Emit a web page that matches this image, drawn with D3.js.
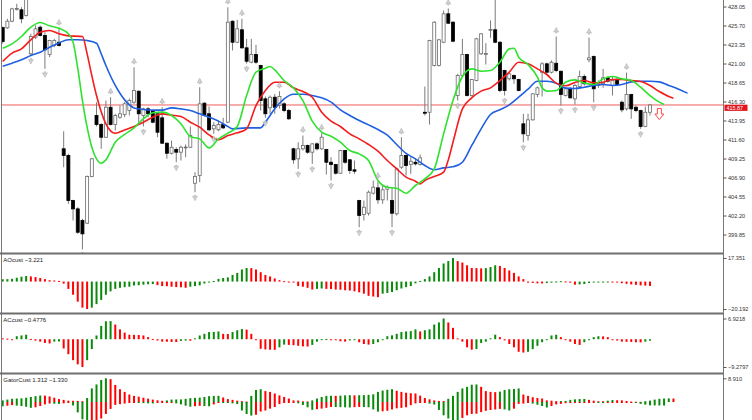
<!DOCTYPE html>
<html>
<head>
<meta charset="utf-8">
<script src="https://cdn.jsdelivr.net/npm/d3@7"></script>
<style>
  html,body{margin:0;padding:0;background:#fff;}
  svg{display:block;font-family:"Liberation Sans",Arial,sans-serif;}
</style>
</head>
<body>
<svg id="chart" width="752" height="420"></svg>
<script>
// ---- price bars (bar index 0..138) ----
const opens = [
  425.45,425.41,426.23,427.76,427.64,426.93,422.20,424.25,425.49,424.46,
  422.11,423.23,423.63,410.45,409.62,404.05,403.02,401.58,401.25,407.02,
  414.57,413.45,411.88,415.59,413.45,414.36,414.69,415.18,416.21,417.57,
  414.57,415.39,415.10,414.78,414.28,411.14,409.90,410.36,410.03,410.60,
  410.64,406.19,407.14,416.09,414.78,412.92,412.80,413.45,413.74,426.23,
  423.63,425.17,422.94,421.16,422.11,420.75,416.63,415.52,416.83,415.80,
  416.01,415.18,410.45,409.21,410.45,410.85,410.03,411.06,410.45,410.36,
  408.79,408.50,407.43,410.24,409.09,407.85,404.05,402.32,402.48,404.96,
  405.62,404.14,405.45,404.05,402.41,408.17,409.62,408.50,408.79,408.50,
  414.97,414.97,420.75,420.75,423.63,427.15,426.11,417.04,419.51,422.11,
  417.04,418.90,422.20,422.20,425.17,425.17,423.63,420.13,419.11,419.51,
  419.02,413.54,412.09,414.03,417.16,419.88,420.96,419.92,421.03,420.04,
  417.04,417.87,416.63,418.15,419.39,421.46,421.86,418.28,418.49,419.23,
  418.28,419.06,416.21,415.39,417.16,415.59,415.18,413.20,414.97
];
const highs = [
  425.57,426.53,427.89,428.38,427.96,429.53,424.67,425.70,425.70,424.87,
  423.93,424.05,425.33,412.62,409.83,404.14,403.22,401.79,407.14,409.33,
  416.21,413.61,416.42,416.83,414.78,415.80,416.21,416.67,420.54,417.66,
  415.52,415.59,415.18,414.85,415.59,411.26,411.47,410.64,410.85,410.98,
  413.21,407.55,418.07,416.21,415.68,413.74,413.95,414.28,427.96,426.32,
  426.40,426.53,424.05,424.05,423.31,420.84,416.92,417.04,417.25,417.57,
  416.21,415.39,410.57,411.26,412.09,410.98,411.14,411.26,412.38,410.45,
  409.41,408.59,410.32,410.32,409.16,409.00,404.14,404.05,405.29,406.53,
  406.40,405.91,405.91,405.70,408.13,411.88,409.74,409.41,409.25,409.74,
  418.15,423.93,426.23,424.05,427.55,427.80,426.23,419.72,424.05,422.20,
  419.11,424.18,424.75,423.51,426.32,429.41,423.76,420.22,419.88,419.64,
  419.11,414.78,414.78,417.32,418.15,421.16,421.12,421.37,424.34,420.13,
  418.07,418.07,418.49,420.13,419.64,424.21,421.99,418.90,420.34,419.39,
  419.39,419.14,416.42,419.88,417.25,415.80,415.27,415.68,416.00
];
const lows = [
  423.47,425.29,426.11,427.55,425.98,426.81,421.99,424.05,424.34,420.34,
  421.78,423.01,423.10,408.17,403.64,401.58,399.93,398.00,401.17,406.93,
  413.21,410.45,411.81,413.33,412.71,414.16,414.36,414.57,416.01,413.54,
  413.21,414.36,413.61,411.88,411.06,409.21,409.74,408.79,409.00,409.41,
  410.57,405.08,406.32,414.44,412.62,412.30,412.62,412.87,413.61,422.61,
  423.51,422.82,421.00,421.03,420.96,415.18,414.28,414.78,414.78,415.43,
  414.97,414.03,408.59,407.97,410.24,409.83,408.59,410.24,410.32,407.27,
  406.53,407.27,407.35,408.59,407.35,407.35,400.75,401.58,402.20,404.79,
  403.64,403.64,404.05,400.75,402.20,407.97,407.14,407.35,408.38,408.38,
  414.57,413.45,420.63,420.63,423.51,425.91,423.63,416.42,419.39,416.92,
  416.92,418.81,422.07,420.87,424.18,423.51,417.45,417.04,418.90,418.49,
  417.57,411.26,411.47,413.95,416.83,416.92,419.76,419.76,419.92,415.80,
  416.92,416.67,415.93,417.99,418.28,421.16,416.21,417.99,417.99,418.65,
  417.04,418.28,414.97,415.18,414.16,414.97,412.92,413.12,414.57
];
const closes = [
  423.72,426.23,427.76,427.80,426.53,428.91,424.34,425.29,424.46,422.69,
  423.84,423.84,423.23,409.62,404.05,403.02,400.13,399.93,407.02,409.21,
  413.45,411.88,415.59,413.45,414.57,414.78,416.01,416.42,417.66,414.78,
  415.39,414.78,413.74,412.50,411.14,409.90,410.64,410.03,410.64,410.66,
  412.09,407.02,416.01,414.57,412.80,413.33,413.45,413.04,426.11,423.63,
  425.29,422.94,421.28,422.11,421.16,416.42,414.78,416.83,415.59,416.92,
  415.18,414.16,409.09,410.45,410.85,410.03,411.06,410.45,411.88,408.79,
  408.50,407.43,410.24,408.79,407.76,407.68,402.20,403.22,405.08,405.70,
  404.14,405.38,405.70,402.48,407.97,409.62,408.38,408.91,408.59,409.33,
  414.85,423.84,426.11,423.93,427.15,425.98,423.76,419.51,422.11,417.04,
  419.02,424.05,424.67,422.23,425.20,423.63,417.66,417.66,419.72,419.11,
  417.66,412.30,414.03,417.25,417.99,420.96,419.92,421.16,420.13,417.16,
  417.87,416.75,418.28,419.39,418.49,421.70,417.87,418.49,419.23,418.81,
  418.90,418.40,415.27,417.16,415.39,415.18,413.20,414.97,415.87
];

// ---- alligator lines, [bar, price] as plotted (already shifted) ----
const jaw = [
  [0,420.67],[2,421.04],[4,421.45],[6,421.99],[8,422.40],[10,423.02],[12,423.55],[14,423.93],
  [16,423.93],[18,423.84],[20,423.51],[21,422.2],[22,420.75],[24,418.28],[26,416.50],[28,415.51],
  [30,415.31],[32,415.23],[34,415.23],[36,415.51],[38,415.39],[40,415.18],[42,414.77],[44,414.36],
  [46,413.87],[48,413.21],[49,412.92],[52,413.04],[55,413.04],[56,413.74],[58,415.39],[60,416.63],
  [62,417.20],[64,417.20],[66,417.04],[68,416.75],[70,416.22],[72,415.27],[74,414.57],[76,413.95],
  [78,413.41],[80,412.83],[82,412.14],[84,410.98],[86,409.87],[88,409.21],[90,408.38],[92,407.85],
  [94,408.09],[96,408.22],[98,408.79],[100,410.86],[102,412.92],[104,414.69],[106,415.27],[108,415.89],
  [110,416.83],[112,417.82],[114,418.81],[116,418.81],[118,418.57],[120,417.95],[122,417.91],[124,418.07],
  [126,418.28],[128,418.40],[130,418.28],[132,418.40],[134,418.73],[136,418.81],[138,418.81],[140,418.73],
  [142,418.28],[144,417.86],[146,417.33]
];
const teeth = [
  [0,421.25],[2,422.28],[4,422.81],[6,423.93],[8,424.87],[10,425.08],[12,424.67],[14,424.42],
  [17,424.34],[18,422.19],[19,419.5],[20,417.04],[22,413.54],[24,412.38],[26,412.79],[28,413.21],
  [30,413.74],[32,414.36],[34,414.77],[36,414.61],[38,414.44],[40,413.74],[42,413.12],[44,412.17],
  [46,411.56],[48,412.09],[50,412.42],[52,412.92],[54,415.80],[56,417.66],[58,418.69],[60,418.69],
  [62,417.99],[64,417.53],[66,416.83],[68,414.98],[70,413.87],[72,413.21],[74,412.30],[76,411.68],
  [78,410.98],[80,410.15],[82,409.00],[84,407.97],[86,406.94],[88,406.44],[89,406.11],[90,406.53],
  [92,407.02],[94,407.56],[95,409.08],[96,411.27],[98,415.39],[100,416.75],[102,417.58],[104,417.99],
  [106,418.89],[108,419.93],[110,421.16],[112,420.96],[114,420.34],[116,419.64],[118,418.57],[120,418.24],
  [122,418.65],[124,418.89],[126,418.61],[128,418.69],[130,419.02],[132,419.02],[134,418.89],[136,418.77],
  [138,418.28],[140,417.53],[142,416.92],[143,416.71]
];
const lips = [
  [0,422.89],[2,423.43],[4,424.34],[6,425.49],[8,426.07],[10,425.66],[12,425.37],[14,424.67],
  [15,423.64],[16,420.42],[17,416.42],[18,413.12],[19,410.65],[20,409.21],[21,408.67],[22,409.08],
  [24,411.27],[26,412.22],[28,413.04],[30,414.15],[32,414.90],[34,414.98],[36,414.57],[38,413.54],
  [40,411.97],[42,411.68],[44,410.57],[46,411.68],[48,412.38],[50,413.21],[52,417.04],[54,419.93],
  [56,420.42],[57,420.63],[58,420.21],[60,418.89],[62,417.99],[64,416.42],[66,413.87],[68,412.50],
  [70,412.01],[72,411.27],[74,410.24],[76,409.82],[78,409.00],[80,406.53],[82,405.70],[84,405.58],
  [86,404.96],[88,405.91],[90,406.73],[92,407.97],[94,412.30],[96,416.42],[98,419.39],[100,420.34],
  [102,420.05],[104,420.13],[106,421.16],[108,422.81],[109,422.89],[110,421.78],[112,420.87],[114,419.31],
  [115,417.99],[116,417.58],[118,417.66],[120,418.69],[122,418.98],[124,418.57],[126,418.40],[128,419.10],
  [130,419.39],[132,419.10],[134,418.89],[136,418.07],[138,417.04],[140,416.22],[141,415.93]
];

const fractalUp = [12,23,28,34,42,48,51,59,64,68,80,85,95,118,125,133];
const fractalDown = [6,9,17,30,37,41,45,52,56,63,66,70,76,83,97,107,111,119,122,126,136];
const sellSignals = [[140, 415.43]];

const priceTicks = [428.05,425.70,423.35,421.00,418.65,416.30,413.95,411.60,409.25,406.90,404.55,402.20,399.85];
const bidPrice = 415.87;

// ---- oscillators ----
const aoValues = [
  1.7,1.8,2.0,2.8,3.6,4.1,3.8,3.3,2.6,1.8,
  1.0,0.8,0.5,-1.5,-5.4,-9.7,-14.8,-19.2,-20.192,-19.2,
  -16.6,-13.5,-9.7,-7.2,-5.4,-4.6,-4.1,-3.8,-2.9,-2.7,
  -2.3,-2.0,-1.8,-2.6,-3.3,-3.4,-3.8,-4.1,-4.2,-4.6,
  -3.8,-3.3,-2.8,-1.4,-0.6,0.4,2.0,2.6,3.1,4.9,
  6.4,8.9,10.0,9.9,8.9,6.9,4.9,3.8,2.3,1.0,
  0.3,-0.1,-0.5,-3.3,-3.8,-4.6,-5.9,-5.4,-5.1,-5.4,
  -5.5,-5.9,-6.0,-6.4,-6.6,-7.2,-7.9,-8.9,-10.5,-11.0,
  -11.5,-8.9,-8.4,-7.7,-6.4,-5.1,-4.1,-3.3,-1.3,0.5,
  1.8,3.8,6.9,10.0,13.3,15.1,17.351,15.1,14.0,12.0,
  10.0,9.9,9.7,9.9,10.7,12.0,11.5,10.0,8.2,6.4,
  3.8,1.8,-0.8,-1.0,-1.3,-1.4,-1.1,-0.8,0.05,0.3,
  0.1,-0.8,-2.3,-2.1,-1.8,-1.0,-0.5,-0.3,-0.1,0.02,
  -0.2,-0.6,-1.2,-1.7,-2.1,-2.4,-2.8,-3.0,-3.221
];
const acValues = [
  0.3,0.2,0.0,1.0,1.25,1.5,0.1,-0.45,-0.8,-1.25,
  -1.4,-0.8,-0.75,-3.1,-5.0,-7.0,-8.4,-9.2797,-7.0,-3.3,
  1.25,4.45,6.0,6.05,4.9,3.3,2.2,1.5,1.45,1.4,
  1.25,0.7,0.1,-0.45,-0.8,-0.85,-0.9,-0.95,-0.55,-0.45,
  -0.5,0.3,1.25,1.8,2.4,2.45,2.6,1.8,1.75,2.4,
  3.0,3.4,3.2,1.8,-0.1,-3.2,-3.4,-3.5,-3.55,-2.7,
  -1.8,-1.9,-2.0,-2.2,-2.4,-2.45,-1.9,-0.8,-0.1,0.1,
  0.0,-0.1,-0.7,-0.8,-0.4,-0.2,-1.0,-1.6,-1.8,-1.6,
  -1.0,-0.1,1.0,1.3,1.8,2.4,2.6,2.7,3.3,2.6,
  3.0,3.3,4.9,5.6,6.9218,5.6,3.8,0.3,-0.8,-2.7,
  -3.5,-3.3,-1.25,-0.8,0.3,1.5,0.7,-0.4,-1.6,-2.7,
  -4.2,-4.45,-4.2,-3.3,-2.2,-1.0,-0.1,1.25,1.5,0.7,
  0.0,-0.8,-1.6,-1.9,-1.0,-0.2,0.7,1.0,0.95,0.7,
  0.0,-0.45,-0.8,-0.85,-0.9,-1.0,-1.05,-0.8,-0.4776
];
const gatorUpper = [
  0.6,0.9,1.2,1.3,1.4,1.6,1.9,2.2,2.45,2.4,
  2.1,1.6,1.1,0.8,0.5,0.45,0.4,0.3,1.5,5.1,
  6.6,8.3,8.91,8.6,6.4,4.8,3.8,2.8,2.3,2.0,
  1.6,1.25,0.9,0.65,0.46,0.6,0.9,0.95,0.97,1.2,
  1.44,1.55,1.65,1.9,2.2,2.3,2.31,1.7,1.1,0.8,
  0.5,0.3,0.15,2.3,4.5,4.8,4.1,3.8,3.2,2.5,
  1.9,1.3,0.6,0.55,0.25,0.2,0.6,1.3,1.9,2.3,
  2.35,2.3,2.4,2.5,2.55,2.5,2.55,2.6,2.7,2.9,
  3.8,4.3,4.6,4.8,4.2,3.8,3.5,3.3,3.2,2.4,
  1.5,1.0,0.6,0.4,0.35,1.2,2.3,3.8,5.1,5.7,
  6.5,6.6,5.7,4.1,3.8,3.7,3.9,4.5,4.8,4.9,
  5.1,2.8,2.3,1.8,1.5,1.3,0.6,0.5,0.3,0.35,
  0.4,0.8,1.0,1.1,1.15,0.8,0.5,0.3,0.29,0.5,
  0.74,0.68,0.62,0.4,0.16,0.1,0.04,0.3,0.53,0.9,
  1.2,1.3,1.36,1.312
];
const gatorLower = [
  1.6,1.4,1.15,1.35,1.53,1.8,2.2,2.0,1.5,0.9,
  0.58,0.65,0.7,0.5,0.25,1.3,3.9,6.5,9.0,8.8,
  7.8,6.2,4.5,2.6,1.1,0.8,0.57,0.35,0.17,0.3,
  0.41,0.5,0.54,0.4,0.21,0.1,0.04,0.5,0.9,1.4,
  1.77,1.6,1.44,1.55,1.6,0.9,0.12,0.2,0.29,0.5,
  0.79,3.2,4.5,5.1,4.8,3.6,3.2,2.5,1.9,0.8,
  0.2,0.1,0.02,0.5,1.11,2.0,2.96,2.7,2.48,2.2,
  1.86,1.9,1.94,2.0,2.06,1.95,1.86,1.9,1.98,2.8,
  3.62,3.5,3.3,2.8,2.39,2.2,1.98,1.2,0.53,0.35,
  0.2,0.6,0.95,3.0,5.0,6.2,6.9,7.1,6.0,5.0,
  4.5,4.4,3.8,3.3,3.0,2.8,2.6,2.8,3.2,2.5,
  0.7,0.6,0.3,0.6,1.03,1.5,2.06,1.5,0.91,0.7,
  0.45,0.4,0.33,0.32,0.3,0.25,0.21,0.3,0.41,0.4,
  0.37,0.2,0.08,0.04,0.02,0.35,0.7,1.0,1.24,1.28,
  1.31,1.33
];
const aoRange = [-20.192, 17.351];
const acRange = [-9.2797, 6.9218];
const gatorMax = 8.910;

(function(){
  const H = 420, axisX = 723.5;
  const GREEN = '#0a8a0a', RED = '#ff0000';
  const svg = d3.select('#chart');

  // bar index -> pixel
  const x = d3.scaleLinear().domain([0, opens.length - 1]).range([2.7, 650]);
  const y = d3.scaleLinear().domain([399.85, 428.05]).range([234.5, 6.5]);
  const yAO = d3.scaleLinear().domain(aoRange).range([309, 258]);
  const yAC = d3.scaleLinear().domain(acRange).range([367, 318.5]);
  const yG = d3.scaleLinear().domain([0, gatorMax]).range([402, 378.3]);

  const defs = svg.append('defs');
  const clip = (id, x0, y0, w, h) => defs.append('clipPath').attr('id', id)
    .append('rect').attr('x', x0).attr('y', y0).attr('width', w).attr('height', h);
  clip('c-main', 2, 0, axisX - 2, 253);
  clip('c-ao', 2, 255, axisX - 2, 58);
  clip('c-ac', 2, 315, axisX - 2, 58);
  clip('c-gator', 2, 375, axisX - 2, 45);

  // ---- main chart ----
  const main = svg.append('g').attr('clip-path', 'url(#c-main)');

  main.append('line')
    .attr('x1', 2).attr('x2', axisX)
    .attr('y1', y(bidPrice)).attr('y2', y(bidPrice))
    .attr('stroke', '#f04a4a').attr('stroke-width', 0.9);

  const bars = opens.map((o, i) => ({i, o, h: highs[i], l: lows[i], c: closes[i]}));
  main.append('g').selectAll('line').data(bars).join('line')
    .attr('x1', d => x(d.i)).attr('x2', d => x(d.i))
    .attr('y1', d => y(d.h)).attr('y2', d => y(d.l))
    .attr('stroke', '#7a7a7a').attr('stroke-width', 1);

  main.append('g').selectAll('rect').data(bars).join('rect')
    .attr('x', d => x(d.i) - 1.5).attr('width', 3)
    .attr('y', d => y(Math.max(d.o, d.c)))
    .attr('height', d => Math.max(0.8, Math.abs(y(d.o) - y(d.c))))
    .attr('fill', d => d.c >= d.o ? '#fff' : '#000')
    .attr('stroke', d => d.c >= d.o ? '#6a6a6a' : '#000')
    .attr('stroke-width', 0.8);

  // alligator
  const line = d3.line().x(d => x(d[0])).y(d => y(d[1])).curve(d3.curveMonotoneX);
  [[jaw, '#1f5fe0'], [teeth, '#f41c1c'], [lips, '#2fe22f']].forEach(([data, col]) => {
    main.append('path').datum(data).attr('d', line)
      .attr('fill', 'none').attr('stroke', col).attr('stroke-width', 1.6);
  });

  // fractals
  const upArrow = 'M0,-3 L2.5,1.6 L0.7,0.8 L0.7,2.6 L-0.7,2.6 L-0.7,0.8 L-2.5,1.6 Z';
  const fr = main.append('g').attr('fill', '#d4d4d4').attr('stroke', '#a6a6a6').attr('stroke-width', 0.5);
  fr.selectAll('path.up').data(fractalUp).join('path').attr('class', 'up')
    .attr('d', upArrow)
    .attr('transform', i => `translate(${x(i)},${y(highs[i]) - 6})`);
  fr.selectAll('path.dn').data(fractalDown).join('path').attr('class', 'dn')
    .attr('d', upArrow)
    .attr('transform', i => `translate(${x(i)},${y(lows[i]) + 5.5}) scale(1,-1)`);

  // sell arrow
  main.selectAll('path.sell').data(sellSignals).join('path').attr('class', 'sell')
    .attr('d', 'M-2,0 H2 V5.5 H4.5 L0,11 L-4.5,5.5 H-2 Z')
    .attr('transform', d => `translate(${x(d[0])},${y(d[1])})`)
    .attr('fill', '#fff').attr('stroke', '#ff4a4a').attr('stroke-width', 1);

  // ---- histograms ----
  function histogram(clipId, values, yS, firstUp, sign) {
    const g = svg.append('g').attr('clip-path', `url(#${clipId})`);
    const z = yS(0);
    g.selectAll('rect').data(values).join('rect')
      .attr('x', (v, i) => x(i) - 1).attr('width', 2)
      .attr('y', v => Math.min(z, yS(sign * v)))
      .attr('height', v => Math.max(1, Math.abs(yS(sign * v) - z)))
      .attr('fill', (v, i) => {
        const up = i === 0 ? firstUp : v > values[i - 1];
        return up ? GREEN : RED;
      });
  }
  histogram('c-ao', aoValues, yAO, true, 1);
  histogram('c-ac', acValues, yAC, false, 1);
  histogram('c-gator', gatorUpper, yG, true, 1);
  histogram('c-gator', gatorLower, yG, true, -1);

  // ---- frames ----
  svg.append('line').attr('x1', 1.5).attr('x2', 1.5).attr('y1', 0).attr('y2', H)
    .attr('stroke', '#777').attr('stroke-width', 1);
  [253.5, 313.5, 373.5].forEach(sy => {
    svg.append('line').attr('x1', 0).attr('x2', axisX).attr('y1', sy).attr('y2', sy)
      .attr('stroke', '#6e6e6e').attr('stroke-width', 2);
  });
  svg.append('line').attr('x1', axisX).attr('x2', axisX).attr('y1', 0).attr('y2', H)
    .attr('stroke', '#777').attr('stroke-width', 1);

  // ---- axes ----
  function rightAxis(scale, ticks, fmt) {
    const g = svg.append('g').attr('transform', `translate(${axisX},0)`)
      .call(d3.axisRight(scale).tickValues(ticks).tickFormat(fmt).tickSize(3).tickPadding(1.5));
    g.select('.domain').remove();
    g.selectAll('line').attr('stroke', '#555');
    g.selectAll('text').attr('font-size', 5.6).attr('fill', '#333')
      .attr('font-family', '"Liberation Sans",Arial,sans-serif');
    return g;
  }
  rightAxis(y, priceTicks, d3.format('.2f'));
  rightAxis(yAO, aoRange.slice().reverse(), d3.format('.3f'));
  rightAxis(yAC, acRange.slice().reverse(), d3.format('.4f'));
  rightAxis(yG, [gatorMax], d3.format('.3f'));

  // bid label (sits just under the 416.30 tick, as in the terminal)
  const by = y(bidPrice);
  svg.append('rect').attr('x', axisX + 1).attr('y', by - 0.3)
    .attr('width', 23).attr('height', 6.2).attr('fill', '#e3141c');
  svg.append('text').attr('x', axisX + 3).attr('y', by + 4.6)
    .attr('font-size', 5.4).attr('fill', '#fff').text(d3.format('.2f')(bidPrice));

  // window titles
  const last = a => a[a.length - 1];
  const titles = [
    [261.5, `AOcust ${d3.format('.3f')(last(aoValues))}`],
    [321.5, `ACcust ${d3.format('.4f')(last(acValues))}`],
    [381.5, `GatorCust ${d3.format('.3f')(last(gatorUpper))} ${d3.format('.3f')(-last(gatorLower))}`]
  ];
  titles.forEach(([ty, t]) => {
    svg.append('text').attr('x', 3.3).attr('y', ty)
      .attr('font-size', 6).attr('fill', '#222').text(t);
  });
})();
</script>
</body>
</html>
